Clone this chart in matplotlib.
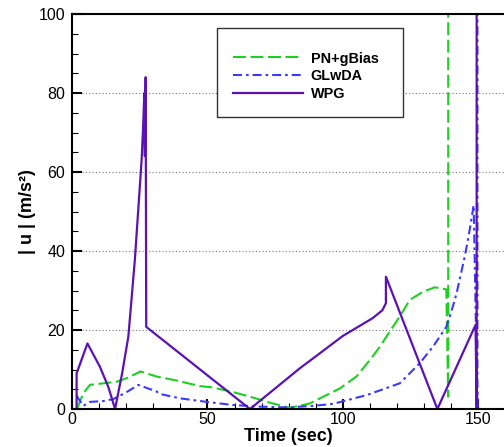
import matplotlib
matplotlib.use('Agg')
import matplotlib.pyplot as plt
from matplotlib.patches import Rectangle
from matplotlib.ticker import MultipleLocator

plt.rcParams['font.family'] = ['Liberation Sans', 'DejaVu Sans']

# PN+gBias (green dashed)
t_pn = [2.0, 4.2, 6.6, 11.5, 16.5, 20.2, 25.3, 31.3, 38.6, 47.2, 51.5, 58.9, 66.3,
        73.0, 80.4, 87.8, 92.7, 98.9, 105.0, 110.0, 113.7, 117.3, 121.0, 124.7,
        129.6, 134.0, 138.2, 138.9, 138.9]
u_pn = [0.3, 4.0, 6.1, 6.5, 6.9, 7.8, 9.5, 8.2, 7.2, 5.8, 5.5, 4.4, 3.0,
        1.6, 0.3, 1.4, 3.1, 5.2, 8.2, 12.4, 15.8, 19.6, 23.4, 27.6,
        29.7, 30.8, 30.3, 3.1, 110.0]

# GLwDA (blue dash-dot)
t_gl = [1.7, 2.3, 4.2, 6.6, 11.5, 15.2, 20.0, 24.5, 31.3, 32.5, 39.9, 49.7, 59.5,
        69.4, 79.2, 89.0, 96.4, 108.7, 121.0, 128.4, 133.3, 138.2, 140.0, 142.0,
        145.0, 146.5, 148.3, 149.7, 149.7]
u_gl = [3.5, 2.7, 0.8, 1.8, 2.0, 2.5, 4.2, 6.1, 4.4, 3.8, 2.7, 1.8, 1.0,
        0.6, 0.4, 0.8, 1.3, 3.5, 6.5, 11.6, 15.8, 20.8, 24.5, 29.3,
        38.6, 44.0, 51.6, 0.0, 110.0]

# WPG (purple solid)
t_wpg = [1.7, 1.7, 5.7, 10.3, 13.4, 15.9, 18.5, 20.8, 23.2, 25.7, 26.3, 26.7, 26.9,
         27.2, 27.4, 65.7, 84.1, 91.5, 100.0, 111.0, 114.6, 115.9, 115.9, 134.9,
         149.0, 149.4, 149.4]
u_wpg = [0.0, 9.0, 16.6, 10.7, 5.6, 0.0, 9.0, 18.3, 37.7, 63.0, 72.0, 80.0, 64.0,
         84.0, 20.8, 0.0, 10.3, 14.1, 18.5, 23.0, 25.0, 26.8, 33.5, 0.0,
         21.3, 0.0, 110.0]

labels = ['PN+gBias', 'GLwDA', 'WPG']

fig = plt.figure(figsize=(5.04, 4.47), dpi=100)
ax = fig.add_axes([72 / 504, 1 - 409 / 447, 432 / 504, 395 / 447])

ax.plot(t_pn, u_pn, color='#1fcf1f', lw=1.5, dashes=(6.2, 2.2), label=labels[0])
ax.plot(t_gl, u_gl, color='#3a3aff', lw=1.5, dashes=(4.3, 1.9, 1.3, 1.9), label=labels[1])
ax.plot(t_wpg, u_wpg, color='#5b12b5', lw=1.6, label=labels[2])

ax.set_xlim(0, 159.5)
ax.set_ylim(0, 100)
ax.xaxis.set_major_locator(MultipleLocator(50))
ax.xaxis.set_minor_locator(MultipleLocator(10))
ax.yaxis.set_major_locator(MultipleLocator(20))
ax.yaxis.set_minor_locator(MultipleLocator(5))
ax.tick_params(which='major', direction='in', length=7, width=1.5,
               labelsize=11.5, top=False, right=False)
ax.tick_params(which='minor', direction='in', length=4, width=0.8,
               top=False, right=False)
ax.tick_params(axis='x', which='major', pad=2)
ax.tick_params(axis='y', which='major', pad=5)
for s in ax.spines.values():
    s.set_linewidth(1.5)
ax.spines['right'].set_visible(False)

ax.grid(axis='y', which='major', color='#777777', lw=0.8, linestyle=(0, (1, 2)))
ax.set_axisbelow(True)

ax.set_xlabel('Time (sec)', fontsize=13, fontweight='bold', labelpad=1)
ax.set_ylabel('| u | (m/s²)', fontsize=13, fontweight='bold', labelpad=2)

# legend box
x0 = (217 - 72) / 432
x1 = (403 - 72) / 432
y1 = 1 - (28.3 - 14) / 395
y0 = 1 - (117.3 - 14) / 395
ax.add_patch(Rectangle((x0, y0), x1 - x0, y1 - y0, transform=ax.transAxes,
                       facecolor='white', edgecolor='#333333', lw=1.0, zorder=5))
leg = ax.legend(loc='upper left', bbox_to_anchor=((232.7 - 72) / 432, 0.905),
                frameon=False, borderpad=0, borderaxespad=0, handlelength=4.9,
                handletextpad=0.5, labelspacing=0.25,
                prop={'weight': 'bold', 'size': 10.4})
leg.set_zorder(6)

fig.savefig('out.png', dpi=100, facecolor='white')
